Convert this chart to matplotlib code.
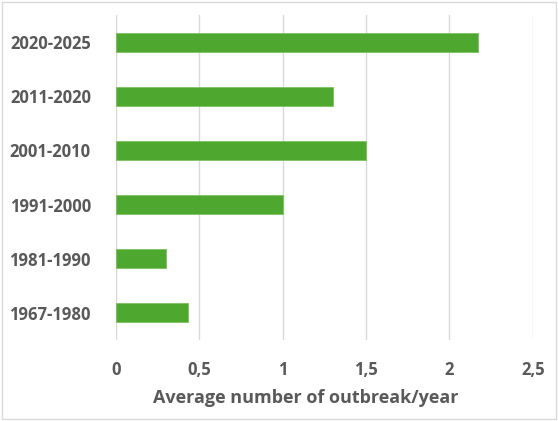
import matplotlib.pyplot as plt

# データ
periods = ['1967-1980', '1981-1990', '1991-2000', '2001-2010', '2011-2020', '2020-2025']
avg_outbreaks = [0.43, 0.30, 1.00, 1.50, 1.30, 2.17]
xticks = [0, 0.5, 1, 1.5, 2, 2.5]
xtick_labels = ['0', '0,5', '1', '1,5', '2', '2,5']

text_color = '#595959'
plt.rcParams['font.family'] = ['Open Sans', 'DejaVu Sans']

fig = plt.figure(figsize=(5.58, 4.21), dpi=100)
ax = fig.add_axes([0.2079, 0.1924, 0.7468, 0.772])

ax.barh(periods, avg_outbreaks, height=0.35, color='#4EA72E', edgecolor='#7CC35F', linewidth=0.6, zorder=3)

ax.set_xlim(0, 2.5)
ax.set_ylim(-0.5, len(periods) - 0.5)
ax.set_xticks(xticks)
ax.set_xticklabels(xtick_labels)
ax.grid(axis='x', color='#d9d9d9', linewidth=1, zorder=0)
for s in ax.spines.values():
    s.set_visible(False)
ax.tick_params(axis='both', length=0, colors=text_color, labelsize=12)
ax.tick_params(axis='x', pad=15)
ax.tick_params(axis='y', pad=18)
for lbl in ax.get_xticklabels() + ax.get_yticklabels():
    lbl.set_fontweight('bold')

ax.set_xlabel('Average number of outbreak/year', color=text_color, fontsize=13,
              fontweight='bold', labelpad=5)
ax.xaxis.set_label_coords(0.455, -0.152)

# 外枠
fig.patches.append(plt.Rectangle((0.004, 0.004), 0.992, 0.992, transform=fig.transFigure,
                                 fill=False, edgecolor='#d9d9d9', linewidth=1))

fig.savefig('out.png', dpi=100)
